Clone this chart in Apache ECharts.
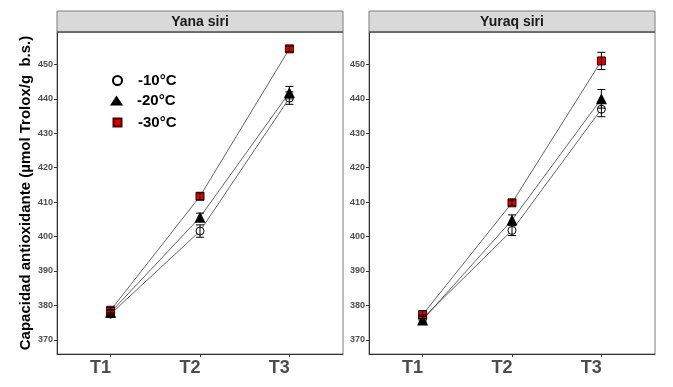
<!DOCTYPE html>
<html>
<head>
<meta charset="utf-8">
<script src="https://cdn.jsdelivr.net/npm/echarts@6/dist/echarts.min.js"></script>
<style>
  html, body { margin: 0; padding: 0; background: #fff; }
  #chart { width: 673px; height: 387px; }
</style>
</head>
<body>
<div id="chart"></div>
<script>
(function () {
    "use strict";
    // categories + panels
    var times = ['T1', 'T2', 'T3'];
    var panels = ['Yana siri', 'Yuraq siri'];
    var temps = ['-10°C', '-20°C', '-30°C'];
    var yTicks = [370, 380, 390, 400, 410, 420, 430, 440, 450];

    // means, per panel
    var yana10 = [377.5, 401.6, 440.2];
    var yana20 = [378.0, 405.6, 441.8];
    var yana30 = [378.6, 411.7, 454.5];
    var yuraq10 = [376.2, 401.8, 437.0];
    var yuraq20 = [375.8, 404.8, 440.0];
    var yuraq30 = [377.3, 409.8, 451.0];

    // error bar half widths
    var yana10Err = [1.0, 1.8, 1.8];
    var yana20Err = [0.8, 1.2, 1.8];
    var yana30Err = [0.8, 1.0, 0.8];
    var yuraq10Err = [1.0, 1.5, 2.2];
    var yuraq20Err = [1.0, 1.5, 2.7];
    var yuraq30Err = [1.2, 0.8, 2.5];

    var means = [[yana10, yana20, yana30], [yuraq10, yuraq20, yuraq30]];
    var errs = [[yana10Err, yana20Err, yana30Err], [yuraq10Err, yuraq20Err, yuraq30Err]];

    var symbols = ['circle', 'triangle', 'rect'];
    var sizes = [8, 11, 8];
    var fills = ['#ffffff', '#000000', '#dd0000'];
    var borders = ['#000000', '#000000', '#4a0000'];

    var chart = echarts.init(document.getElementById('chart'));

    var panelLeft = [57, 369];
    var panelW = 286;
    var top = 32, plotH = 322;

    var grids = [], xAxes = [], yAxes = [], series = [], graphics = [];

    panels.forEach(function (p, i) {
        grids.push({
            left: panelLeft[i], top: top, width: panelW, height: plotH,
            show: true, borderColor: '#7f7f7f', borderWidth: 1, backgroundColor: '#fff'
        });
        xAxes.push({
            gridIndex: i, type: 'value', min: 0.4, max: 3.6,
            splitLine: { show: false },
            axisLine: { show: true, onZero: false, lineStyle: { color: '#333', width: 1 } },
            axisTick: { show: true, customValues: [1, 2, 3], length: 3, lineStyle: { color: '#333' } },
            axisLabel: {
                customValues: [1, 2, 3],
                formatter: function (v) { return times[Math.round(v) - 1]; },
                fontFamily: 'Arial, Liberation Sans', fontWeight: 'bold', fontSize: 18,
                color: '#4d4d4d', margin: 5, padding: [0, 20, 0, 0]
            }
        });
        yAxes.push({
            gridIndex: i, type: 'value', min: 365.9, max: 459.4,
            splitLine: { show: false },
            axisLine: { show: true, onZero: false, lineStyle: { color: '#333', width: 1 } },
            axisTick: { show: true, customValues: yTicks, length: 3, lineStyle: { color: '#333' } },
            axisLabel: {
                customValues: yTicks,
                fontFamily: 'Liberation Sans Narrow, Arial', fontWeight: 'bold', fontSize: 9,
                color: '#4d4d4d', margin: 4
            },
            name: i === 0 ? 'Capacidad antioxidante (µmol Trolox/g  b.s.)' : '',
            nameLocation: 'middle', nameRotate: 90, nameGap: 24,
            nameTextStyle: { fontFamily: 'Arial, Liberation Sans', fontWeight: 'bold', fontSize: 15, color: '#000' }
        });

        // strip header
        graphics.push({
            type: 'rect', shape: { x: panelLeft[i], y: 11, width: panelW, height: 21 },
            style: { fill: '#d9d9d9', stroke: '#7f7f7f', lineWidth: 1 }, z: 10
        });
        graphics.push({
            type: 'line', shape: { x1: panelLeft[i], y1: 32, x2: panelLeft[i] + panelW, y2: 32 },
            style: { stroke: '#333', lineWidth: 1 }, z: 11
        });
        graphics.push({
            type: 'text', x: panelLeft[i] + panelW / 2, y: 22,
            style: {
                text: p, fill: '#1a1a1a', font: 'bold 14px Arial, Liberation Sans',
                textAlign: 'center', textVerticalAlign: 'middle'
            }, z: 12
        });

        temps.forEach(function (t, k) {
            var m = means[i][k], e = errs[i][k];
            var pts = m.map(function (v, j) { return [j + 1, v]; });
            series.push({
                type: 'line', xAxisIndex: i, yAxisIndex: i, data: pts,
                showSymbol: false, symbol: 'none', silent: true,
                lineStyle: { color: '#222', width: 0.7 }, z: 1
            });
            series.push({
                type: 'scatter', name: t, xAxisIndex: i, yAxisIndex: i, data: pts,
                symbol: symbols[k], symbolSize: sizes[k],
                itemStyle: { color: fills[k], borderColor: borders[k], borderWidth: k === 1 ? 0 : 1, opacity: 1 },
                z: 3
            });
            series.push({
                type: 'custom', xAxisIndex: i, yAxisIndex: i, silent: true,
                data: m.map(function (v, j) { return [j + 1, v - e[j], v + e[j]]; }),
                encode: { x: 0, y: [1, 2] },
                renderItem: function (params, api) {
                    var x = api.value(0);
                    var a = api.coord([x, api.value(1)]);
                    var b = api.coord([x, api.value(2)]);
                    var w = 4;
                    var st = { stroke: '#000', lineWidth: 1 };
                    return {
                        type: 'group', children: [
                            { type: 'line', shape: { x1: a[0], y1: a[1], x2: b[0], y2: b[1] }, style: st },
                            { type: 'line', shape: { x1: a[0] - w, y1: a[1], x2: a[0] + w, y2: a[1] }, style: st },
                            { type: 'line', shape: { x1: b[0] - w, y1: b[1], x2: b[0] + w, y2: b[1] }, style: st }
                        ]
                    };
                },
                z: 4
            });
        });
    });

    // one legend per key so each icon keeps its own size
    var legW = [9, 13, 8];
    var legH = [9, 10, 8];
    var legCy = [80, 100, 122];
    var legends = temps.map(function (t, k) {
        return {
            orient: 'vertical',
            padding: 0,
            left: 116.5 - legW[k] / 2,
            top: legCy[k] - 7,
            itemWidth: legW[k], itemHeight: legH[k],
            data: [t],
            selectedMode: false,
            textStyle: {
                fontFamily: 'Arial, Liberation Sans', fontWeight: 'bold', fontSize: 15,
                color: '#000', padding: [0, 0, 0, 137 - (116.5 + legW[k] / 2) - 5]
            }
        };
    });

    var option = {
        backgroundColor: '#ffffff',
        animation: false,
        grid: grids,
        xAxis: xAxes,
        yAxis: yAxes,
        legend: legends,
        graphic: graphics,
        series: series
    };
    chart.setOption(option);
})();
</script>
</body>
</html>
